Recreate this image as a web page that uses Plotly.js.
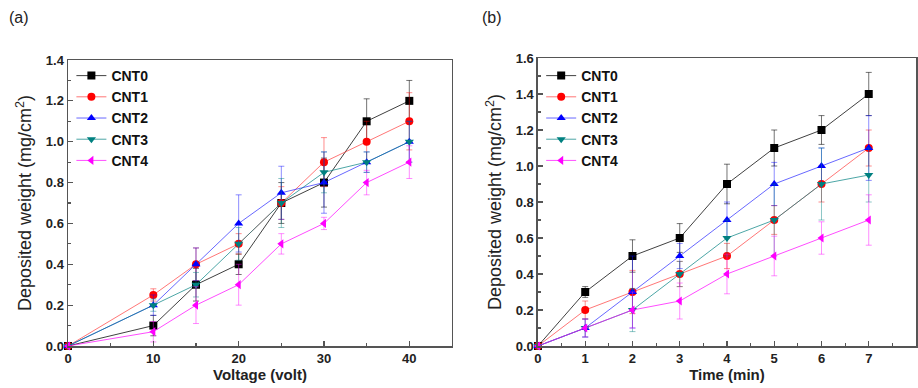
<!DOCTYPE html>
<html>
<head>
<meta charset="utf-8">
<script src="https://cdn.plot.ly/plotly-3.0.1.min.js"></script>
<style>html,body{margin:0;padding:0;background:#fff;}#chart{width:918px;height:388px;}</style>
</head>
<body>
<div id="chart"></div>
<script>
// ---- Data ----
var seriesNames = ["CNT0", "CNT1", "CNT2", "CNT3", "CNT4"];

// Panel (a): deposited weight vs voltage
var voltage = [0, 10, 15, 20, 25, 30, 35, 40];
var aCNT0 = [0, 0.10, 0.30, 0.40, 0.70, 0.80, 1.10, 1.20];
var aCNT1 = [0, 0.25, 0.40, 0.50, 0.70, 0.90, 1.00, 1.10];
var aCNT2 = [0, 0.20, 0.40, 0.60, 0.75, 0.80, 0.90, 1.00];
var aCNT3 = [0, 0.20, 0.30, 0.50, 0.70, 0.85, 0.90, 1.00];
var aCNT4 = [0, 0.07, 0.20, 0.30, 0.50, 0.60, 0.80, 0.90];
var aErr0 = [0, 0.05, 0.08, 0.05, 0.10, 0.12, 0.11, 0.10];
var aErr1 = [0, 0.03, 0.08, 0.05, 0.08, 0.12, 0.10, 0.14];
var aErr2 = [0, 0.05, 0.08, 0.14, 0.13, 0.15, 0.05, 0.10];
var aErr3 = [0, 0.03, 0.06, 0.08, 0.12, 0.10, 0.05, 0.10];
var aErr4 = [0, 0.05, 0.09, 0.10, 0.05, 0.03, 0.06, 0.08];

// Panel (b): deposited weight vs time
var timeMin = [0, 1, 2, 3, 4, 5, 6, 7];
var bCNT0 = [0, 0.30, 0.50, 0.60, 0.90, 1.10, 1.20, 1.40];
var bCNT1 = [0, 0.20, 0.30, 0.40, 0.50, 0.70, 0.90, 1.10];
var bCNT2 = [0, 0.10, 0.30, 0.50, 0.70, 0.90, 1.00, 1.10];
var bCNT3 = [0, 0.10, 0.20, 0.40, 0.60, 0.70, 0.90, 0.95];
var bCNT4 = [0, 0.10, 0.20, 0.25, 0.40, 0.50, 0.60, 0.70];
var bErr0 = [0, 0.03, 0.09, 0.08, 0.11, 0.10, 0.08, 0.12];
var bErr1 = [0, 0.05, 0.12, 0.07, 0.07, 0.08, 0.10, 0.10];
var bErr2 = [0, 0.05, 0.20, 0.07, 0.10, 0.12, 0.10, 0.18];
var bErr3 = [0, 0.05, 0.12, 0.07, 0.10, 0.20, 0.20, 0.15];
var bErr4 = [0, 0.05, 0.10, 0.10, 0.11, 0.11, 0.09, 0.14];

var xTickA = [0, 10, 20, 30, 40];
var xTickB = [0, 1, 2, 3, 4, 5, 6, 7, 8];

// ---- Styles ----
var colors = ["#000000", "#ff0000", "#0000ff", "#008080", "#ff00ff"];
var lineColors = ["rgba(0,0,0,0.75)", "rgba(255,60,60,0.7)", "rgba(40,40,255,0.7)", "rgba(0,128,128,0.7)", "rgba(255,0,255,0.7)"];
var errColors = ["rgba(0,0,0,0.55)", "rgba(255,0,0,0.45)", "rgba(0,0,255,0.45)", "rgba(0,128,128,0.45)", "rgba(255,0,255,0.45)"];
var symbols = ["square", "circle", "triangle-up", "triangle-down", "triangle-left"];
var FONT = "Arial, 'Liberation Sans', sans-serif";

var aY = [aCNT0, aCNT1, aCNT2, aCNT3, aCNT4];
var aE = [aErr0, aErr1, aErr2, aErr3, aErr4];
var bY = [bCNT0, bCNT1, bCNT2, bCNT3, bCNT4];
var bE = [bErr0, bErr1, bErr2, bErr3, bErr4];

var traces = [];
function mk(x, y, e, i, xa, ya, leg) {
  return {
    type: "scatter", mode: "lines+markers",
    x: x, y: y, name: seriesNames[i],
    xaxis: xa, yaxis: ya, legend: leg,
    line: {color: lineColors[i], width: 1},
    marker: {color: colors[i], symbol: symbols[i], size: 8},
    error_y: {type: "data", array: e, visible: true, color: errColors[i], thickness: 1, width: 3},
    cliponaxis: false
  };
}
for (var i = 0; i < 5; i++) traces.push(mk(voltage, aY[i], aE[i], i, "x", "y", "legend"));
for (var j = 0; j < 5; j++) traces.push(mk(timeMin, bY[j], bE[j], j, "x2", "y2", "legend2"));

var axisCommon = {
  showline: true, linecolor: "#555", linewidth: 1.5, mirror: true,
  ticks: "inside", ticklen: 5, tickcolor: "#555", tickwidth: 1.2,
  showgrid: false, zeroline: false, automargin: false,
  tickfont: {family: FONT, size: 13, color: "#222", weight: "bold"}
};
function ax(extra) { var o = {}; for (var k in axisCommon) o[k] = axisCommon[k]; for (var k2 in extra) o[k2] = extra[k2]; return o; }

var legendCommon = {
  font: {family: FONT, size: 14, color: "#111", weight: "bold"},
  bgcolor: "rgba(0,0,0,0)", borderwidth: 0,
  xanchor: "left", yanchor: "top", tracegroupgap: 0, itemwidth: 30
};
function lg(extra) { var o = {}; for (var k in legendCommon) o[k] = legendCommon[k]; for (var k2 in extra) o[k2] = extra[k2]; return o; }

var yTitleFont = {family: FONT, size: 18, color: "#222"};
var xTitleFont = {family: FONT, size: 15, color: "#222", weight: "bold"};

var layout = {
  width: 918, height: 388,
  margin: {l: 68, r: 2, t: 58, b: 42},
  paper_bgcolor: "#fff", plot_bgcolor: "#fff",
  showlegend: true,
  xaxis: ax({domain: [0, 0.4528], range: [0, 45], tickvals: xTickA, minor: {dtick: 5, ticks: "inside", ticklen: 3, tickcolor: "#555"},
    title: {text: "Voltage (volt)", font: xTitleFont, standoff: 2}, anchor: "y"}),
  yaxis: ax({domain: [0, 0.993], range: [0, 1.4], dtick: 0.2, tickformat: ".1f", minor: {dtick: 0.1, ticks: "inside", ticklen: 3, tickcolor: "#555"},
    title: {text: "Deposited weight (mg/cm<sup>2</sup>)", font: yTitleFont, standoff: 9}, anchor: "x"}),
  xaxis2: ax({domain: [0.5542, 1], range: [0, 8], tickvals: xTickB, minor: {dtick: 0.5, ticks: "inside", ticklen: 3, tickcolor: "#555"},
    title: {text: "Time (min)", font: xTitleFont, standoff: 2}, anchor: "y2"}),
  yaxis2: ax({domain: [0, 1], range: [0, 1.6], dtick: 0.2, tickformat: ".1f", minor: {dtick: 0.1, ticks: "inside", ticklen: 3, tickcolor: "#555"},
    title: {text: "Deposited weight (mg/cm<sup>2</sup>)", font: yTitleFont, standoff: 9}, anchor: "x2"}),
  legend: lg({x: 0.004, y: 0.993}),
  legend2: lg({x: 0.558, y: 0.993}),
  annotations: [
    {text: "(a)", xref: "paper", yref: "paper", x: -0.072, y: 1.14, xanchor: "left", yanchor: "middle", showarrow: false, font: {family: FONT, size: 16, color: "#222"}},
    {text: "(b)", xref: "paper", yref: "paper", x: 0.486, y: 1.14, xanchor: "left", yanchor: "middle", showarrow: false, font: {family: FONT, size: 16, color: "#222"}}
  ]
};

Plotly.newPlot("chart", traces, layout, {displayModeBar: false, staticPlot: true});
</script>
</body>
</html>
